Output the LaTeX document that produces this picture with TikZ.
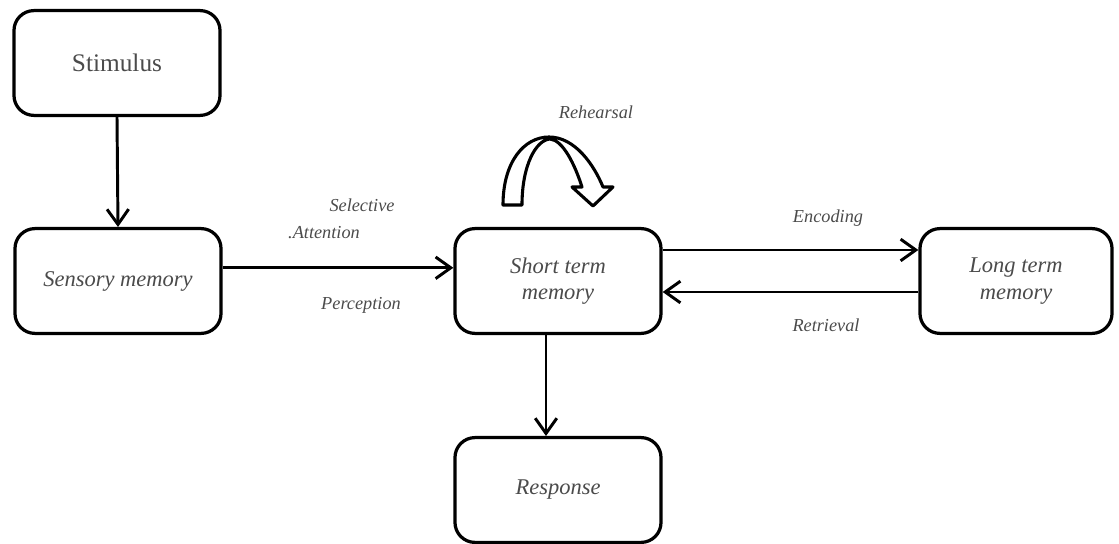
\documentclass[tikz,border=0pt]{standalone}
\usepackage{fontspec}
\setmainfont{Liberation Serif}
\usetikzlibrary{arrows.meta}
\definecolor{textgray}{RGB}{75,75,75}

\begin{document}
\begin{tikzpicture}[x=0.025cm,y=-0.025cm,
box/.style={draw=black, line width=2.3pt, rounded corners=0.5cm, fill=white, minimum width=5.15cm, minimum height=2.62cm, align=center, text=textgray, font=\fontsize{16}{19}\selectfont\itshape},
conn/.style={line width=2.1pt, -{Straight Barb[length=3.8mm,width=5.4mm]}},
lbl/.style={text=textgray, font=\fontsize{13}{15}\selectfont\itshape}]
\useasboundingbox (0,0) rectangle (1119,544);
\node[box, font=\fontsize{18}{21}\selectfont] (stim) at (117,63) {Stimulus};
\node[box] (sens) at (118,281) {Sensory memory};
\node[box] (stm) at (558,281) {Short term\\memory};
\node[box, minimum width=4.8cm] (ltm) at (1016,281) {Long term\\memory};
\node[box] (resp) at (558,490) {Response};
\draw[conn] (stim.south) -- (sens.north);
\draw[conn] ([yshift=0.33cm]sens.east) -- ([yshift=0.33cm]stm.west);
\draw[conn] ([yshift=0.775cm]stm.east) -- ([yshift=0.775cm]ltm.west);
\draw[conn] ([yshift=-0.275cm]ltm.west) -- ([yshift=-0.275cm]stm.east);
\draw[conn] ([xshift=-0.3cm]stm.south) -- ([xshift=-0.3cm]resp.north);
\draw[line width=2.2pt, fill=white, line join=round] (503,205) .. controls (503,162) and (524,137) .. (549,137)
.. controls (575,137) and (594,165) .. (603,187) -- (613,187) -- (593,206) -- (572,187) -- (582,187)
.. controls (575,165) and (563,140) .. (550,139) .. controls (536,140) and (522,165) .. (522,205) -- cycle;
\node[lbl] (reh) at (596,112) {Rehearsal};
\node[lbl] (sel) at (362,205) {Selective};
\node[lbl] (att) at (324,233) {.Attention};
\node[lbl] (perc) at (361,305) {Perception};
\node[lbl] (enc) at (828,218) {Encoding};
\node[lbl] (retr) at (826,325) {Retrieval};
\end{tikzpicture}
\end{document}
